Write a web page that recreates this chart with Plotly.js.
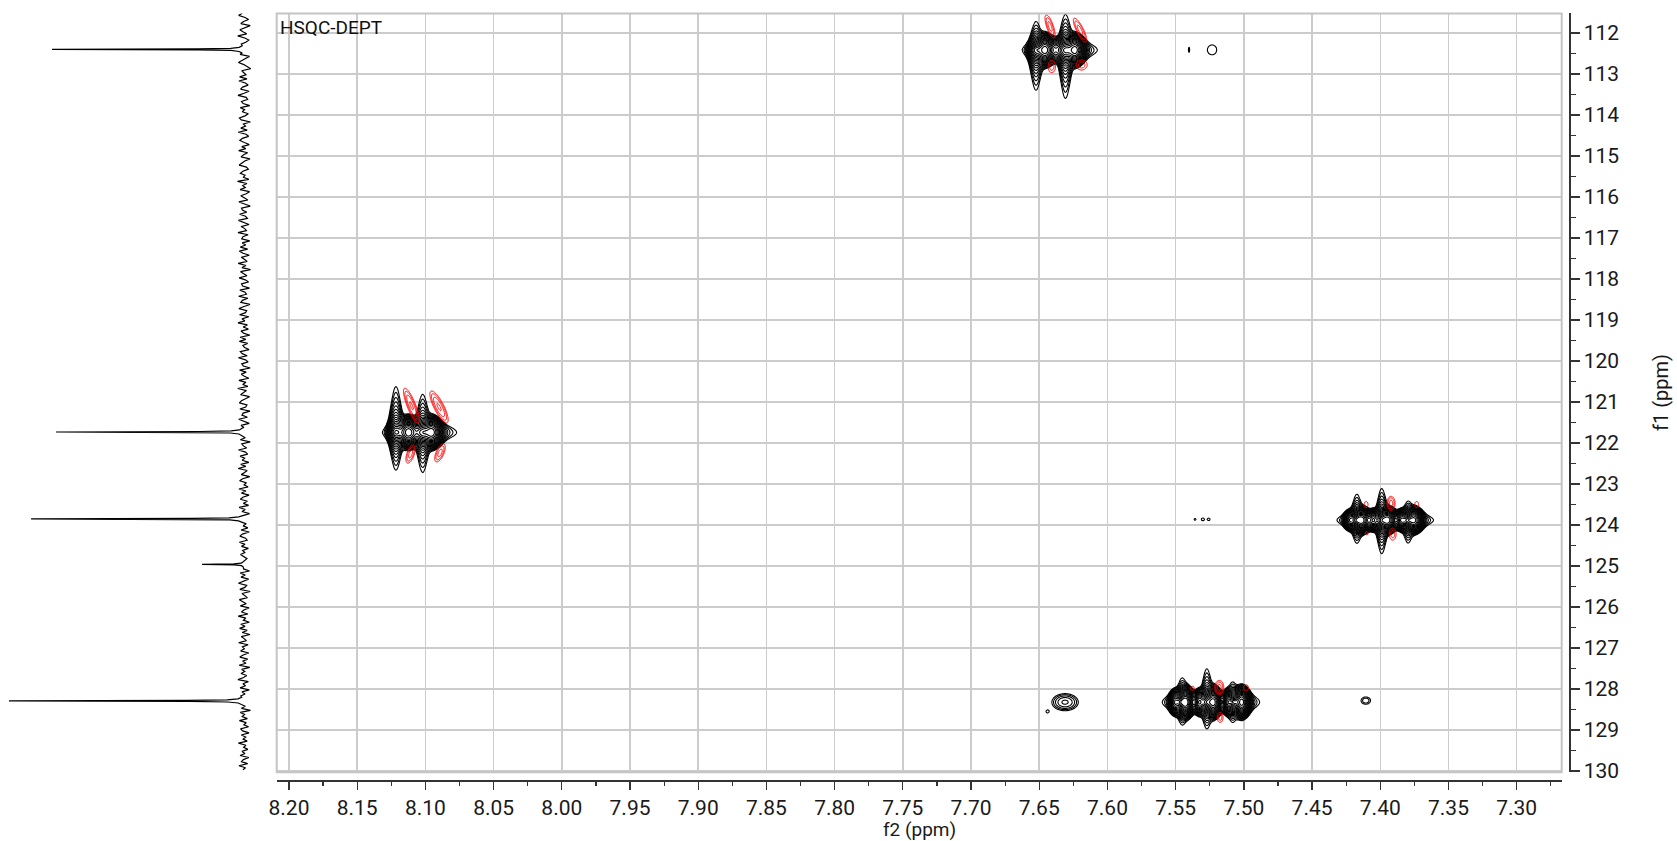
<!DOCTYPE html>
<html><head><meta charset="utf-8">
<script src="https://cdn.plot.ly/plotly-3.0.1.min.js"></script>
<style>html,body{margin:0;padding:0;background:#fff}#chart{width:1677px;height:841px}</style>
</head><body><div id="chart"></div>
<script>
// ---------------- DATA ----------------
// Positive (black) cross-peak components: f2 (1H ppm), f1 (13C ppm), amplitude (lowest-contour units),
// f2 width, f1 width above / below centre (ppm), Lorentzian fraction along f2 / f1
const posF2   = [7.6458,7.6238,7.6348,7.6524,7.6308,
                 8.1125,8.0954,8.1040,8.1216,8.1020,
                 7.4136,7.3946,7.3753,7.4222,7.4051,7.3843,7.4173,7.3990,7.3797,
                 7.5426,7.5224,7.5016,7.5504,7.5326,7.5114,7.5455,7.5272,7.5081,
                 7.6311,7.6440,7.4106,7.5402,7.5233,7.5358,7.5302,7.5256];
const posF1   = [112.415,112.415,112.415,112.415,112.415,
                 121.74,121.74,121.74,121.74,121.74,
                 123.88,123.88,123.88,123.88,123.88,123.88,123.88,123.88,123.88,
                 128.32,128.32,128.32,128.32,128.32,128.32,128.32,128.32,128.32,
                 128.32,128.55,128.28,112.41,112.41,123.86,123.86,123.86];
const posAmp  = [100,100,20,50,50,
                 100,100,20,50,50,
                 100,100,95,35,50,50,50,50,50,
                 100,100,100,50,50,50,50,50,50,
                 3.0,1.1,1.6,1.1,1.15,1.06,1.1,1.06];
const posSx   = [0.0031,0.0031,0.0059,0.0026,0.0026,
                 0.0034,0.0033,0.0059,0.0026,0.0026,
                 0.0028,0.0028,0.0028,0.0020,0.0020,0.0020,0.0022,0.0022,0.0022,
                 0.0025,0.0025,0.0026,0.0019,0.0019,0.0019,0.0022,0.0022,0.0022,
                 0.0064,0.0017,0.0034,0.0008,0.0056,0.0015,0.0018,0.0015];
const posSyUp = [0.140,0.140,0.125,0.098,0.122,
                 0.140,0.140,0.125,0.159,0.130,
                 0.115,0.115,0.115,0.100,0.100,0.100,0.087,0.108,0.063,
                 0.140,0.140,0.140,0.120,0.120,0.120,0.078,0.115,0.068,
                 0.140,0.056,0.088,0.110,0.207,0.049,0.060,0.049];
const posSyDn = [0.140,0.140,0.125,0.139,0.167,
                 0.140,0.140,0.125,0.131,0.137,
                 0.115,0.115,0.115,0.100,0.100,0.100,0.077,0.115,0.077,
                 0.140,0.140,0.140,0.120,0.120,0.120,0.072,0.091,0.068,
                 0.140,0.056,0.088,0.110,0.207,0.049,0.060,0.049];
const posEtaX = [0.2,0.2,0.2,0,0,
                 0.2,0.2,0.2,0,0,
                 0.2,0.2,0.2,0.2,0.2,0.2,0,0,0,
                 0.2,0.2,0.2,0.2,0.2,0.2,0,0,0,
                 0,0,0,0,0,0,0,0];
const posEtaY = [0.05,0.05,0.05,1,1,
                 0.05,0.05,0.05,1,1,
                 0.05,0.05,0.05,0.05,0.05,0.05,1,1,1,
                 0.05,0.05,0.05,0.05,0.05,0.05,1,1,1,
                 0,0,0,0,0,0,0,0];

// Negative (red) components: f2, f1, amplitude, f2 width, f1 width, tilt (d f2 / d f1)
const negF2   = [7.6421,7.6201,7.6408,7.6189, 8.1102,8.0900,8.1109,8.0893,
                 7.4104,7.3921,7.3733,7.3909,7.4099, 7.5378,7.5180,7.4984,7.5174];
const negF1   = [111.84,111.93,112.82,112.78, 121.09,121.12,122.27,122.24,
                 123.50,123.47,123.50,124.22,124.20, 127.98,127.96,127.97,128.69];
const negAmp  = [1.9,1.9,1.5,1.5, 2.3,2.3,1.9,1.9, 1.2,1.9,1.2,1.5,1.1, 1.1,1.9,1.2,1.5];
const negSx   = [0.0023,0.0025,0.0030,0.0045, 0.0026,0.0031,0.0025,0.0027,
                 0.0024,0.0026,0.0024,0.0028,0.0025, 0.0034,0.0029,0.0030,0.0024];
const negSy   = [0.247,0.258,0.163,0.136, 0.331,0.302,0.194,0.194,
                 0.121,0.151,0.121,0.163,0.084, 0.112,0.151,0.121,0.136];
const negTilt = [-0.0093,-0.0137,0,0, -0.0112,-0.0138,0.0084,0.0107,
                 0,0,0,0,0, 0,0,0,0];

// Regions of the 2D map that hold signal (f2 lo/hi, f1 lo/hi)
const regF2Lo = [7.595,7.512,8.058,7.350,7.518,7.478,7.605,7.400];
const regF2Hi = [7.680,7.550,8.150,7.440,7.545,7.572,7.660,7.422];
const regF1Lo = [111.4,112.0,120.1,122.8,123.7,127.3,127.8,127.9];
const regF1Hi = [113.9,112.8,123.4,125.0,124.05,129.3,128.85,128.6];

// 13C projection (left): peaks and baseline noise
const projPeakPpm = [
  112.31,112.35,112.375,112.388,112.40,112.412,112.425,112.45,112.49,
  121.64,121.68,121.705,121.718,121.73,121.742,121.755,121.78,121.82,
  123.76,123.80,123.825,123.838,123.85,123.862,123.875,123.90,123.94,
  124.90,124.93,124.948,124.96,124.972,124.99,125.02,
  128.20,128.24,128.265,128.278,128.29,128.302,128.315,128.34,128.38];
const projPeakInt = [
  0.8,2.1,5.7,19.6,81.7,19.6,5.7,2.1,0.8,
  0.9,2.0,5.5,19.0,80.0,19.5,5.8,2.2,0.7,
  0.6,2.3,6.4,22.0,90.6,21.5,6.1,2.4,0.9,
  0.5,1.2,4.3,17.9,4.2,1.1,0.4,
  1.0,2.6,7.2,24.0,100,23.5,7.0,2.5,1.1];
const projPeakCentres = [112.40,121.73,123.85,124.96,128.29];
const noiseStart = 111.52, noiseStep = 0.05;
const noiseInt = [
 0.8,2.3,-0.4,-1.9,0.2,1.4,-2.6,-0.7,1.8,0.5,-1.1,2.7,-0.3,-2.0,-0.9,1.2,2.1,-1.6,0.4,-0.2,
 1.7,-2.3,-0.6,0.9,2.4,0.1,-1.4,-2.8,1.0,0.3,-0.8,1.9,-1.2,2.2,-0.5,-1.7,0.6,1.5,-2.1,0.0,
 2.6,-0.9,-1.5,1.1,0.4,-2.4,1.6,-0.2,0.8,-1.8,-0.4,2.0,1.2,-2.7,0.3,-0.6,1.4,-1.3,2.5,-0.8,
 -1.9,0.7,1.8,-0.1,-2.2,1.0,-0.7,2.3,-1.5,0.2,1.3,-2.5,-0.3,0.9,2.1,-1.0,-1.8,0.5,1.6,-0.4,
 0.3,-2.0,2.8,-1.2,0.6,-0.5,1.7,-2.3,-0.9,1.4,0.1,-1.6,2.2,-0.2,-2.6,1.1,0.7,-1.1,1.9,-0.6,
 -1.4,2.4,0.2,-2.1,1.3,-0.3,-1.0,2.6,-1.7,0.5,1.0,-2.4,0.8,-0.7,1.6,-1.5,2.0,0.4,-2.2,1.2,
 -0.1,-1.3,2.5,-0.8,0.9,-2.7,1.5,0.3,-1.2,2.1,-0.5,-1.9,1.1,0.6,-2.3,1.8,-0.4,-1.0,2.3,-1.6,
 0.7,1.4,-2.5,0.0,2.2,-1.1,-0.6,1.9,-2.0,0.9,-0.3,2.6,-1.4,0.4,-1.8,1.3,0.2,-2.4,1.7,-0.7,
 2.0,-1.5,0.5,-0.2,-2.1,1.6,0.8,-1.3,2.4,-0.6,-1.7,1.0,0.3,-2.6,1.9,-0.9,1.2,-0.1,-2.0,2.2,
 -0.8,0.6,-1.6,2.7,-1.0,0.2,1.5,-2.3,-0.4,1.1,2.0,-1.2,-0.7,1.8,-2.5,0.4,0.9,-1.4,2.3,-0.3,
 -2.2,1.3,0.1,-0.9,2.1,-1.8,0.7,-0.5,1.6,-2.6,1.0,0.3,-1.1,2.4,-0.6,-1.5,1.7,-0.2,0.8,-2.0,
 1.4,-0.7,2.5,-1.3,-0.2,1.2,-2.4,0.6,1.9,-1.0,0.0,-1.7,2.2,-0.8,1.1,-2.1,0.5,1.6,-1.4,0.3,
 -1.9,2.1,-0.5,0.9,-2.3,1.5,-0.1,-1.2,2.6,-0.9,0.4,-1.6,1.3,-2.2,0.7,1.8,-0.6,-1.3,2.0,-0.4,
 1.1,-1.8,0.6,-0.3,1.5,
 0.4,-1.2,2.2,-0.6,-1.8,1.0,0.2,-2.3,1.7,-0.5,1.3,-1.9,0.6,2.4,-1.1,-0.3,1.8,-2.6,0.9,-0.2,
 -1.4,2.0,0.5,-0.9,1.6,-2.1,0.1,1.1,-1.6,2.5,-0.7,0.3,-2.2,1.4,-0.4,1.9,-1.3,0.8,-2.5,1.2,
 0.0,-1.0,2.3,-1.7,0.7,-0.1,1.5,-2.0,0.4,1.8,-1.5,0.6,-0.8,2.1,-2.4,1.0,-0.3,1.3,-1.1,0.2,
 2.6,-1.8,0.5,-0.6,1.7,-2.2,0.9,-0.4,1.4,-1.6,0.3,2.2,-1.2,-0.5,1.1,-2.7,1.6,-0.2,0.8,-1.4,
 2.0,-0.9,0.1,-1.9,1.5,0.6,-2.1,1.2,-0.7,0.4,-1.3,2.4,-0.8,0.2,-1.6,
 0.9,-0.4,1.7,-2.0,0.3,1.1,-1.5,2.2,-0.6,0.5];

const label = 'HSQC-DEPT';
const xTitle = 'f2 (ppm)', yTitle = 'f1 (ppm)';

// ---------------- BUILD ----------------
const levelRatio = 1.3, nPosLevels = 18, nNegLevels = 8;
const lnR = Math.log(levelRatio);
function shape(u, eta){ return (1-eta)*Math.exp(-0.5*u*u) + eta/(1+u*u); }
function posField(x, y){
  let s = 0;
  for (let k=0;k<posF2.length;k++){
    const u = (x-posF2[k])/posSx[k];
    const d = y-posF1[k];
    const v = d/(d<0?posSyUp[k]:posSyDn[k]);
    if (Math.abs(u)>80 || Math.abs(v)>80) continue;
    s += posAmp[k]*shape(u,posEtaX[k])*shape(v,posEtaY[k]);
  }
  return s;
}
function negField(x, y){
  let s = 0;
  for (let k=0;k<negF2.length;k++){
    const d = y-negF1[k];
    const u = (x-negF2[k]-negTilt[k]*d)/negSx[k];
    const v = d/negSy[k];
    if (Math.abs(u)>10 || Math.abs(v)>10) continue;
    s += negAmp[k]*Math.exp(-0.5*(u*u+v*v));
  }
  return s;
}
function toLevel(s){ return s>1e-6 ? Math.max(Math.log(s)/lnR, -4) : -4; }

const traces = [];
const dx = 0.0004, dy = 0.015;
for (let r=0;r<regF2Lo.length;r++){
  const nx = Math.round((regF2Hi[r]-regF2Lo[r])/dx)+1;
  const ny = Math.round((regF1Hi[r]-regF1Lo[r])/dy)+1;
  const xs = [], ys = [];
  for (let i=0;i<nx;i++) xs.push(regF2Lo[r]+i*dx);
  for (let j=0;j<ny;j++) ys.push(regF1Lo[r]+j*dy);
  const zp = [], zn = [];
  let maxN = 0;
  for (let j=0;j<ny;j++){
    const rp = [], rn = [];
    for (let i=0;i<nx;i++){
      rp.push(toLevel(posField(xs[i],ys[j])));
      const n = negField(xs[i],ys[j]); if (n>maxN) maxN=n;
      rn.push(toLevel(n));
    }
    zp.push(rp); zn.push(rn);
  }
  traces.push({type:'contour', x:xs, y:ys, z:zp, xaxis:'x', yaxis:'y', showscale:false, hoverinfo:'skip',
    autocontour:false, contours:{start:0, end:nPosLevels-1, size:1, coloring:'lines', showlabels:false},
    colorscale:[[0,'#000000'],[1,'#000000']], line:{width:1.1, smoothing:0.8}});
  if (maxN>1){
    traces.push({type:'contour', x:xs, y:ys, z:zn, xaxis:'x', yaxis:'y', showscale:false, hoverinfo:'skip',
      autocontour:false, contours:{start:0, end:nNegLevels-1, size:1, coloring:'lines', showlabels:false},
      colorscale:[[0,'#ff0000'],[1,'#ff0000']], line:{width:1.0, smoothing:0.8}});
  }
}

// projection trace
const pts = [];
for (let i=0;i<noiseInt.length;i++){
  const p = noiseStart + i*noiseStep;
  if (projPeakCentres.some(c=>Math.abs(c-p)<0.1)) continue;
  pts.push([p, noiseInt[i]]);
}
for (let i=0;i<projPeakPpm.length;i++) pts.push([projPeakPpm[i], projPeakInt[i]]);
pts.sort((a,b)=>a[0]-b[0]);
traces.push({type:'scatter', mode:'lines', x:pts.map(p=>p[1]), y:pts.map(p=>p[0]), xaxis:'x2', yaxis:'y2',
  line:{color:'#000', width:1.2}, hoverinfo:'skip', showlegend:false});

const FONT = 'Roboto, "Noto Sans", sans-serif';
const yDomain = [0.08169,0.98395], yRange = [130.03,111.524];
const layout = {
  width:1677, height:841, margin:{l:0,r:0,t:0,b:0,pad:0},
  paper_bgcolor:'#ffffff', plot_bgcolor:'#ffffff', showlegend:false,
  font:{family:FONT, color:'#1a1a1a', size:21},
  xaxis:{domain:[0.1650,0.93125], range:[8.2090,7.2670], autorange:false,
    anchor:'free', position:0.0725, dtick:0.05, tick0:0, tickformat:'.2f',
    ticks:'outside', ticklen:8, tickwidth:1.3, tickcolor:'#333',
    showline:true, linecolor:'#333', linewidth:1.5,
    showgrid:true, gridcolor:'#cccccc', gridwidth:1.5, zeroline:false,
    tickfont:{size:21, family:FONT, color:'#1a1a1a'},
    minor:{dtick:0.025, ticks:'outside', ticklen:4, tickwidth:1.2, tickcolor:'#333', showgrid:false}},
  yaxis:{domain:yDomain, range:yRange, autorange:false,
    anchor:'free', position:0.9356, side:'right', dtick:1, tick0:0,
    ticks:'outside', ticklen:9, tickwidth:1.3, tickcolor:'#333',
    showline:true, linecolor:'#333', linewidth:1.5,
    showgrid:true, gridcolor:'#cccccc', gridwidth:1.5, zeroline:false,
    tickfont:{size:21, family:FONT, color:'#1a1a1a'},
    minor:{dtick:0.5, ticks:'outside', ticklen:5, tickwidth:1.2, tickcolor:'#333', showgrid:false}},
  xaxis2:{domain:[0,0.16], range:[103.8,-10.3], autorange:false, anchor:'y2', visible:false},
  yaxis2:{domain:yDomain, range:yRange, autorange:false, anchor:'x2', visible:false, showgrid:false},
  shapes:[{type:'rect', xref:'x domain', yref:'y domain', x0:0, x1:1, y0:0, y1:1,
    line:{color:'#c4c4c4', width:2}, layer:'above'}],
  annotations:[
    {text:label, xref:'x domain', yref:'y domain', x:0, y:1, xanchor:'left', yanchor:'top',
     showarrow:false, font:{size:19, family:FONT, color:'#111'}, xshift:1, yshift:-1},
    {text:xTitle, xref:'x domain', yref:'paper', x:0.5, y:0, xanchor:'center', yanchor:'bottom',
     showarrow:false, borderpad:0, yshift:-1, font:{size:19, family:FONT, color:'#1a1a1a'}},
    {text:yTitle, xref:'paper', yref:'y domain', x:0.99046, y:0.5, xanchor:'center', yanchor:'middle',
     textangle:-90, showarrow:false, borderpad:0, font:{size:20, family:FONT, color:'#1a1a1a'}}
  ]
};
Plotly.newPlot('chart', traces, layout, {displayModeBar:false, staticPlot:true});
</script></body></html>
